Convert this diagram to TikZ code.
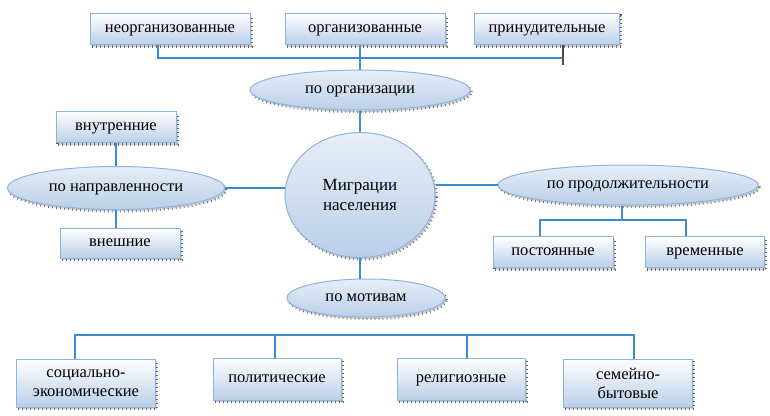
\documentclass[tikz,border=0pt]{standalone}
\usepackage{fontspec}
\setmainfont{Liberation Serif}
\usetikzlibrary{shapes.geometric,shadows,positioning}
\definecolor{linkblue}{HTML}{3D8BCF}
\definecolor{edgeblue}{HTML}{8DB3E2}
\definecolor{fillblue}{HTML}{BACFE8}
\tikzset{
	tickshadow/.style={general shadow={shadow xshift=1.6pt,shadow yshift=-2pt,fill=gray!35},
		general shadow={shadow xshift=1.6pt,shadow yshift=-2pt,draw=gray!80!black,line width=2.4pt,dash pattern=on 0.7pt off 3.3pt}},
	boxnode/.style={rectangle,draw=edgeblue,line width=1pt,top color=white,bottom color=fillblue,
		tickshadow,minimum height=31pt,inner sep=2pt,align=center,text height=9pt,text depth=2pt,
		font=\fontsize{16.5}{19}\selectfont},
	ovalnode/.style={ellipse,draw=edgeblue,line width=1pt,top color=fillblue!35,bottom color=fillblue,
		tickshadow,inner sep=0pt,align=center,text height=9pt,text depth=2pt,
		font=\fontsize{16.5}{19}\selectfont},
	twolines/.style={text height=,text depth=,yshift=-1pt},
	link/.style={draw=linkblue,line width=1.2pt}
}
\begin{document}
\begin{tikzpicture}[x=1pt,y=1pt]
	\useasboundingbox (0,0) rectangle (770,-415);

	\node[boxnode,minimum width=160pt] (neorg) at (170,-29) {неорганизованные};
	\node[boxnode,minimum width=160pt] (org) at (365,-29) {организованные};
	\node[boxnode,minimum width=145pt] (prinud) at (547,-29) {принудительные};
	\node[ovalnode,minimum width=220pt,minimum height=40pt] (poorg) at (360,-90) {по организации};

	\node[boxnode,minimum width=120pt] (vnutr) at (116,-127) {внутренние};
	\node[ovalnode,minimum width=217pt,minimum height=43pt] (ponapr) at (116,-188) {по направленности};
	\node[boxnode,minimum width=120pt,minimum height=30pt] (vnesh) at (120,-243) {внешние};

	\node[ovalnode,twolines,minimum width=150pt,minimum height=125pt,font=\fontsize{17}{19.5}\selectfont] (migr) at (360,-194) {Миграции\\населения};

	\node[ovalnode,minimum width=260pt,minimum height=40pt] (poprod) at (628,-185) {по продолжительности};
	\node[boxnode,minimum width=120pt] (postoyan) at (553,-252) {постоянные};
	\node[boxnode,minimum width=119pt] (vremen) at (705,-252) {временные};

	\node[ovalnode,minimum width=158pt,minimum height=38pt] (pomotiv) at (366,-298) {по мотивам};
	\node[boxnode,twolines,minimum width=139pt,minimum height=48pt] (socec) at (86,-382) {социально-\\экономические};
	\node[boxnode,minimum width=128pt,minimum height=42pt] (polit) at (277,-379) {политические};
	\node[boxnode,minimum width=128pt,minimum height=42pt] (relig) at (461,-379) {религиозные};
	\node[boxnode,twolines,minimum width=129pt,minimum height=48pt] (semein) at (628,-382) {семейно-\\бытовые};

	\coordinate (orgbar) at (563,-58);
	\coordinate (prodbar) at (622,-220);
	\coordinate (motivbar) at (75,-335);

	\draw[link] ([xshift=-12pt]neorg.south) |- (orgbar);
	\draw[gray!60!black,line width=1.2pt] ([xshift=16pt]prinud.south) -- ++(0,-20pt);
	\draw[link] (poorg.north) -- (poorg.north |- org.south);
	\draw[link] (poorg.south) -- (migr.north);
	\draw[link] (vnutr.south) -- (ponapr.north);
	\draw[link] (ponapr.south) -- (ponapr.south |- vnesh.north);
	\draw[link] (ponapr.east) -- (ponapr.east -| migr.west);
	\draw[link] (migr.east |- poprod.west) -- (poprod.west);
	\draw[link] (migr.south) -- (migr.south |- pomotiv.north);
	\draw[link] (poprod.south -| prodbar) -- (prodbar);
	\draw[link] ([xshift=-13pt]postoyan.north) |- (prodbar) -| ([xshift=-19pt]vremen.north);
	\draw[link] ([xshift=-11pt]socec.north) |- ([xshift=6pt]semein.north |- motivbar) -- ([xshift=6pt]semein.north);
	\draw[link] ([xshift=-2pt]polit.north) -- ++(0,23pt);
	\draw[link] ([xshift=6pt]relig.north) -- ++(0,23pt);
\end{tikzpicture}
\end{document}
